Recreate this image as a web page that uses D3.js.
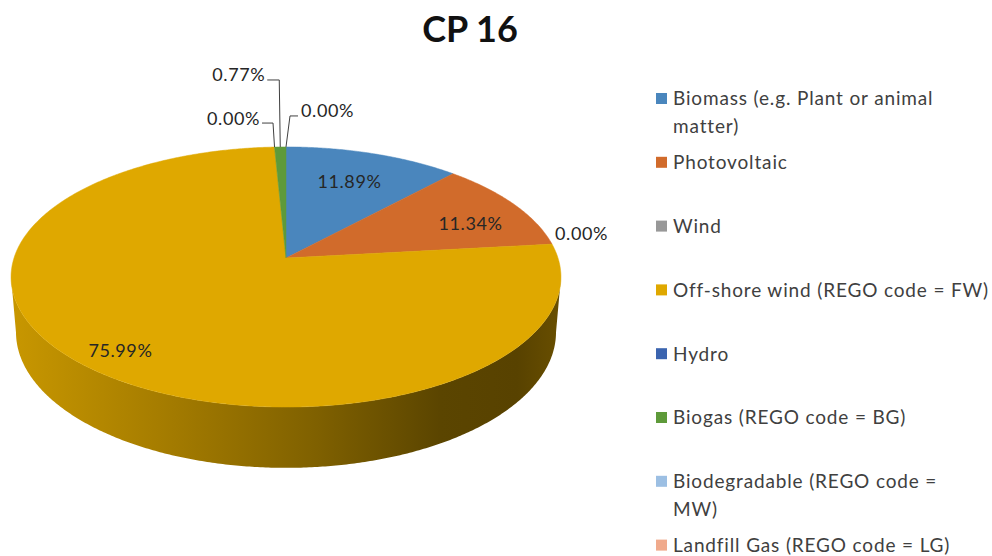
<!DOCTYPE html>
<html><head><meta charset="utf-8">
<script src="https://cdn.jsdelivr.net/npm/d3@7"></script>
<style>body{margin:0;background:#fff} svg{display:block}</style>
</head><body><svg id="chart" width="992" height="556"></svg>
<script>
// ---- data ----
const title = "CP 16";
const categories = [
  "Biomass (e.g. Plant or animal matter)",
  "Photovoltaic",
  "Wind",
  "Off-shore wind (REGO code = FW)",
  "Hydro",
  "Biogas (REGO code = BG)",
  "Biodegradable (REGO code = MW)",
  "Landfill Gas (REGO code = LG)"
];
const values = [11.89, 11.34, 0.00, 75.99, 0.00, 0.77, 0.00, 0.00];
const colors = ["#4a86bd", "#d16b2b", "#989898", "#dfa800", "#3b64af", "#5e9a3a", "#9cbfe3", "#f0aa8c"];

// legend line wrapping (layout)
const legendLines = {
  0: ["Biomass (e.g. Plant or animal", "matter)"],
  6: ["Biodegradable (REGO code =", "MW)"]
};

// label layout: inside (f = radius fraction), outside, or with leader line
const labelLayout = {
  0: {type: "inside", f: 0.70, dy: -1},
  1: {type: "inside", f: 0.80, dy: 9},
  2: {type: "outside", dx: 3, dy: -11},
  3: {type: "inside", f: 0.85, dy: 2},
  4: {type: "leader", bx: -1.5, ly: -24, ex: -12.5},
  5: {type: "leader", bx: -1, ly: -67, ex: -13},
  6: {type: "leader", bx: 4, ly: -31, ex: 12}
};

// ---- geometry (3D perspective pie) ----
const cx = 286, cy = 258, R = 272, alpha = 27.9 * Math.PI / 180, D = 1646, H = 63;
function proj(theta, f, h) {
  const X = f * R * Math.sin(theta), Zw = -f * R * Math.cos(theta);
  const yc = -Zw * Math.sin(alpha) + h * Math.cos(alpha);
  const zc = Zw * Math.cos(alpha) + h * Math.sin(alpha);
  const s = D / (D - zc);
  return [cx + X * s, cy - yc * s];
}

const svg = d3.select("#chart");
const FONT = "Lato, 'Open Sans', sans-serif";

svg.append("text")
  .attr("x", 470).attr("y", 42)
  .attr("text-anchor", "middle")
  .attr("font-family", FONT).attr("font-weight", "bold")
  .attr("font-size", 36).attr("fill", "#111")
  .text(title);

const arcs = d3.pie().sort(null).value(d => d)(values);

// find silhouette extremes
let thR = 0, thL = 0, maxX = -1e9, minX = 1e9;
for (let i = 0; i <= 3600; i++) {
  const t = i / 3600 * 2 * Math.PI;
  const p = proj(t, 1, 0);
  if (p[0] > maxX) { maxX = p[0]; thR = t; }
  if (p[0] < minX) { minX = p[0]; thL = t; }
}

const defs = svg.append("defs");
const step = Math.PI / 360;
function rim(t0, t1, f, h) {
  const pts = [];
  const n = Math.max(1, Math.ceil((t1 - t0) / step));
  for (let i = 0; i <= n; i++) pts.push(proj(t0 + (t1 - t0) * i / n, f, h));
  return pts;
}
const line = d3.line();

// sides
arcs.forEach((a, i) => {
  const t0 = Math.max(a.startAngle, thR), t1 = Math.min(a.endAngle, thL);
  if (t1 <= t0) return;
  const base = d3.color(colors[i]);
  const g = defs.append("linearGradient").attr("id", "side" + i)
    .attr("gradientUnits", "userSpaceOnUse")
    .attr("x1", minX).attr("x2", maxX).attr("y1", 0).attr("y2", 0);
  [[0, 0.3], [0.3, 0.9], [0.55, 1.55], [0.78, 2.5], [0.92, 2.6], [1, 2.1]].forEach(([o, k]) => {
    g.append("stop").attr("offset", o).attr("stop-color", base.darker(k).formatHex());
  });
  const top = rim(t0, t1, 1, 0);
  const bot = rim(t0, t1, 1, -H).reverse();
  svg.append("path").attr("d", line(top.concat(bot)) + "Z").attr("fill", "url(#side" + i + ")");
});

// top faces
arcs.forEach((a, i) => {
  if (a.endAngle - a.startAngle <= 0) return;
  const pts = [proj(0, 0, 0)].concat(rim(a.startAngle, a.endAngle, 1, 0));
  svg.append("path").attr("d", line(pts) + "Z").attr("fill", colors[i])
    .attr("stroke", colors[i]).attr("stroke-width", 0.5);
});

// data labels
const fmt = v => v.toFixed(2) + "%";
const LFS = 18, LLS = 0.6;
arcs.forEach((a, i) => {
  const L = labelLayout[i];
  if (!L) return;
  const mid = (a.startAngle + a.endAngle) / 2;
  const txt = fmt(values[i]);
  if (L.type === "inside") {
    const p = proj(mid, L.f, 0);
    svg.append("text").attr("x", p[0]).attr("y", p[1] + L.dy).attr("dy", "0.36em")
      .attr("text-anchor", "middle").attr("font-family", FONT).attr("font-size", LFS)
      .attr("letter-spacing", LLS).attr("fill", "#262626").text(txt);
  } else if (L.type === "outside") {
    const p = proj(mid, 1, 0);
    svg.append("text").attr("x", p[0] + L.dx).attr("y", p[1] + L.dy).attr("dy", "0.36em")
      .attr("text-anchor", "start").attr("font-family", FONT).attr("font-size", LFS)
      .attr("letter-spacing", LLS).attr("fill", "#262626").text(txt);
  } else {
    const p = proj(mid, 1, 0);
    const by = p[1] + L.ly;
    svg.append("path")
      .attr("d", line([p, [p[0] + L.bx, by], [p[0] + L.ex, by]]))
      .attr("fill", "none").attr("stroke", "#404040").attr("stroke-width", 1);
    const left = L.ex < L.bx;
    svg.append("text").attr("x", p[0] + L.ex + (left ? -2 : 3)).attr("y", by + 1.5)
      .attr("text-anchor", left ? "end" : "start").attr("font-family", FONT).attr("font-size", LFS)
      .attr("letter-spacing", LLS).attr("fill", "#262626").text(txt);
  }
});

// legend
const ly = d3.scaleLinear().domain([0, 1]).range([98.5, 162.3]);
const lg = svg.append("g");
categories.forEach((c, i) => {
  const y = ly(i);
  lg.append("rect").attr("x", 656).attr("y", y - 5.5).attr("width", 11).attr("height", 11).attr("fill", colors[i]);
  const lines = legendLines[i] || [c];
  lines.forEach((s, j) => {
    lg.append("text").attr("x", 673).attr("y", y + j * 28).attr("dy", "0.36em")
      .attr("font-family", FONT).attr("font-size", 19).attr("letter-spacing", 0.85)
      .attr("fill", "#404040").text(s);
  });
});
</script></body></html>
